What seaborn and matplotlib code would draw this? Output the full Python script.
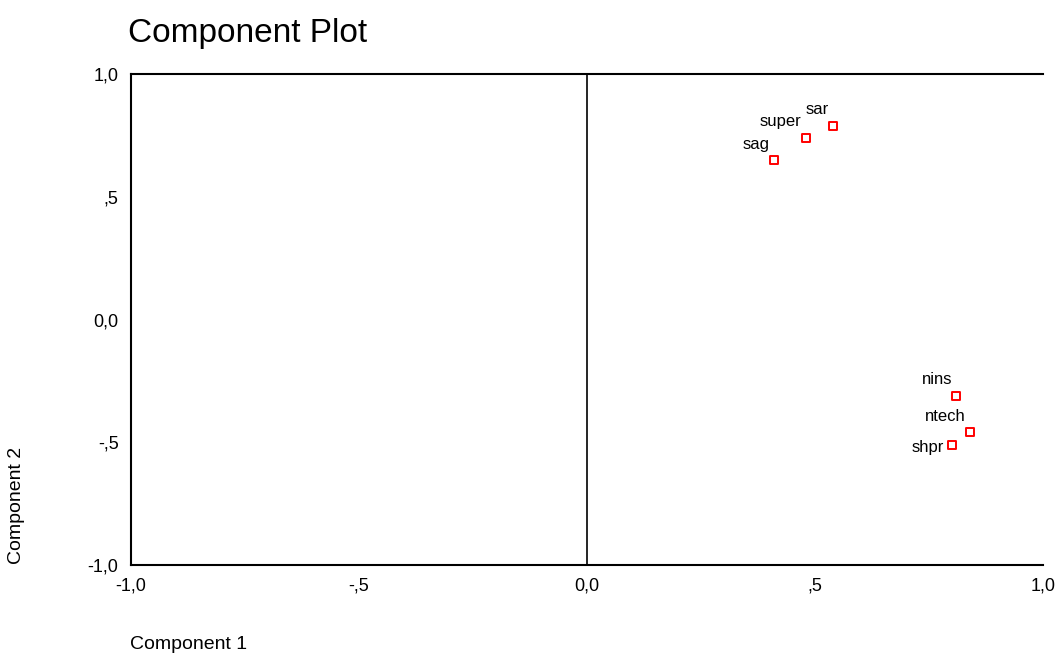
import numpy as np
import pandas as pd
import matplotlib
matplotlib.use("Agg")
import matplotlib.pyplot as plt
import seaborn as sns

variables = ['sag', 'super', 'sar', 'nins', 'ntech', 'shpr']
comp1 = [0.41, 0.48, 0.54, 0.81, 0.84, 0.80]
comp2 = [0.65, 0.74, 0.79, -0.31, -0.46, -0.51]
tick_vals = [-1.0, -0.5, 0.0, 0.5, 1.0]
tick_labels = ['-1,0', '-,5', '0,0', ',5', '1,0']

df = pd.DataFrame({'var': variables, 'c1': comp1, 'c2': comp2})

sns.set_style('white')
plt.rcParams['font.family'] = ['Liberation Sans', 'DejaVu Sans']
plt.rcParams['text.color'] = 'black'
plt.rcParams['xtick.color'] = 'black'
plt.rcParams['ytick.color'] = 'black'

fig = plt.figure(figsize=(10.6, 6.56), dpi=100)
ax = fig.add_axes([0.1236, 0.1387, 0.8604, 0.7485])

sns.scatterplot(data=df, x='c1', y='c2', marker='s', s=40,
                facecolor='white', edgecolor='#ff0000', linewidth=1.4, ax=ax)

for _, r in df.iterrows():
    if r['var'] == 'shpr':
        off, va = (-6, -2), 'center'
    else:
        off, va = (-3, 6), 'bottom'
    ax.annotate(r['var'], (r['c1'], r['c2']), xytext=off,
                textcoords='offset points', ha='right', va=va,
                fontsize=12, color='black')

ax.set_xlim(-1, 1)
ax.set_ylim(-1, 1)
ax.axvline(0, color='black', lw=1.2)
ax.set_xticks(tick_vals)
ax.set_xticklabels(tick_labels)
ax.set_yticks(tick_vals)
ax.set_yticklabels(tick_labels)
ax.tick_params(labelsize=13, length=3, width=1.5, direction='out', pad=6,
               colors='black')

for side in ['left', 'bottom', 'top']:
    ax.spines[side].set_color('black')
    ax.spines[side].set_linewidth(1.5)
ax.spines['right'].set_visible(False)

ax.set_xlabel('')
ax.set_ylabel('')
fig.text(0.123, 0.005, 'Component 1', fontsize=14, ha='left', va='bottom')
fig.text(0.008, 0.14, 'Component 2', fontsize=14, rotation=90, ha='left', va='bottom')
fig.text(0.121, 0.925, 'Component Plot', fontsize=24, ha='left', va='bottom')

fig.savefig('out.png', dpi=100, facecolor='white')
